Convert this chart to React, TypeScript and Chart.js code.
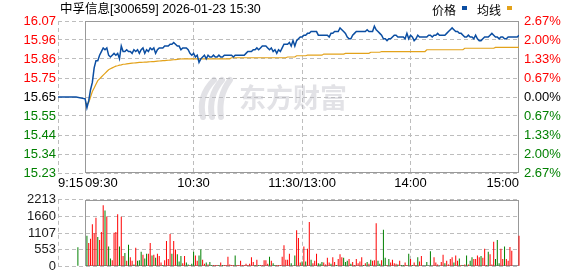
import React, { useEffect, useRef } from 'react';
import { Chart, registerables } from 'chart.js';

Chart.register(...registerables);

// ---------------- data ----------------
const TITLE = '中孚信息[300659] 2026-01-23 15:30';
const LEGEND_LABELS = ['价格', '均线'];

// x axis: minutes after 9:15 with the lunch break collapsed (11:30 == 13:00)
const X_TICK_LABELS = ['9:15', '09:30', '10:30', '11:30/13:00', '14:00', '15:00'];
const X_TICK_MINUTES = [0, 15, 75, 135, 195, 255];
const X_GRID_MINUTES = [0, 75, 135, 195];
const SESSION_START = 15; // 9:30

const PRICE_TICK_LABELS = ['16.07', '15.96', '15.86', '15.75', '15.65', '15.55', '15.44', '15.34', '15.23'];
const PCT_TICK_LABELS = ['2.67%', '2.00%', '1.33%', '0.67%', '0.00%', '0.67%', '1.33%', '2.00%', '2.67%'];
const VOL_TICK_LABELS = ['2213', '1660', '1107', '553', '0'];

const PRICE_MIN = 15.232;
const PRICE_MAX = 16.068;
const VOL_MAX = 2213;

// call auction (9:15 - 9:25)
const AUCTION_MINUTES = [0, 10];
const AUCTION_PRICES = [15.65, 15.65];
const AUCTION_VOL_MINUTE = 11;
const AUCTION_VOL = 630;
const AUCTION_VOL_DIR = 'g';

// minute prices 9:30 .. 15:00 (241 points)
const PRICES = [
  15.64, 15.59, 15.63, 15.69, 15.73, 15.81, 15.85, 15.85, 15.88, 15.90,
  15.92, 15.91, 15.92, 15.88, 15.87, 15.88, 15.89, 15.88, 15.89, 15.86,
  15.93, 15.90, 15.90, 15.91, 15.90, 15.90, 15.89, 15.91, 15.90, 15.91,
  15.89, 15.91, 15.92, 15.89, 15.91, 15.90, 15.92, 15.91, 15.92, 15.89,
  15.91, 15.92, 15.92, 15.92, 15.93, 15.93, 15.93, 15.94, 15.94, 15.95,
  15.94, 15.93, 15.93, 15.91, 15.92, 15.92, 15.92, 15.91, 15.89, 15.88,
  15.89, 15.87, 15.88, 15.84, 15.86, 15.87, 15.88, 15.86, 15.88, 15.87,
  15.87, 15.88, 15.87, 15.87, 15.88, 15.87, 15.87, 15.88, 15.88, 15.88,
  15.88, 15.88, 15.87, 15.88, 15.88, 15.88, 15.88, 15.88, 15.88, 15.89,
  15.90, 15.90, 15.90, 15.91, 15.91, 15.92, 15.91, 15.92, 15.93, 15.93,
  15.93, 15.92, 15.91, 15.92, 15.90, 15.91, 15.89, 15.91, 15.90, 15.92,
  15.94, 15.94, 15.94, 15.95, 15.93, 15.96, 15.93, 15.96, 15.97, 15.98,
  15.98, 15.99, 15.99, 16.00, 16.00, 16.01, 16.01, 16.01, 16.01, 15.99,
  15.99, 15.99, 15.99, 15.99, 15.99, 15.98, 16.00, 16.00, 16.01, 16.01,
  16.01, 16.03, 16.02, 16.01, 16.00, 15.98, 15.97, 15.97, 15.99, 16.00,
  16.01, 16.01, 16.01, 16.01, 16.01, 16.01, 16.02, 16.01, 16.01, 16.01,
  16.04, 16.02, 16.01, 16.00, 15.99, 15.97, 15.97, 15.96, 15.97, 15.97,
  15.98, 15.99, 15.99, 15.98, 15.98, 15.98, 15.98, 15.97, 16.00, 15.97,
  15.99, 15.98, 15.96, 15.97, 15.99, 15.98, 15.98, 15.98, 15.98, 15.98,
  15.99, 15.99, 15.98, 15.99, 15.99, 16.00, 15.99, 15.99, 15.99, 15.99,
  16.00, 16.01, 16.02, 16.03, 16.02, 16.01, 16.01, 16.00, 16.00, 15.99,
  15.98, 15.98, 15.99, 15.98, 15.98, 15.97, 15.99, 15.97, 15.96, 15.96,
  15.97, 15.98, 15.98, 15.98, 15.99, 16.00, 15.99, 15.98, 15.98, 15.97,
  15.98, 15.98, 15.97, 15.97, 15.98, 15.98, 15.98, 15.98, 15.98, 15.98,
  15.99,
];

// average price line 9:30 .. 15:00 (241 points)
const AVG_PRICES = [
  15.62, 15.61, 15.62, 15.65, 15.68, 15.70, 15.72, 15.74, 15.75, 15.76,
  15.77, 15.78, 15.79, 15.80, 15.805, 15.81, 15.815, 15.82, 15.822, 15.825,
  15.827, 15.83, 15.83, 15.832, 15.834, 15.835, 15.836, 15.837, 15.838, 15.839,
  15.84, 15.84, 15.841, 15.842, 15.842, 15.843, 15.844, 15.845, 15.845, 15.846,
  15.847, 15.848, 15.849, 15.85, 15.85, 15.851, 15.852, 15.853, 15.854, 15.855,
  15.856, 15.857, 15.858, 15.859, 15.86, 15.86, 15.86, 15.86, 15.86, 15.86,
  15.86, 15.86, 15.86, 15.86, 15.86, 15.86, 15.86, 15.86, 15.86, 15.86,
  15.86, 15.86, 15.86, 15.86, 15.86, 15.86, 15.86, 15.86, 15.86, 15.86,
  15.86, 15.866, 15.866, 15.866, 15.866, 15.866, 15.866, 15.866, 15.866, 15.866,
  15.866, 15.866, 15.866, 15.866, 15.866, 15.866, 15.866, 15.866, 15.866, 15.866,
  15.866, 15.866, 15.866, 15.866, 15.866, 15.866, 15.866, 15.866, 15.866, 15.866,
  15.866, 15.866, 15.87, 15.87, 15.87, 15.87, 15.87, 15.877, 15.877, 15.877,
  15.877, 15.877, 15.877, 15.88, 15.88, 15.88, 15.88, 15.88, 15.88, 15.88,
  15.88, 15.88, 15.886, 15.886, 15.886, 15.886, 15.886, 15.886, 15.886, 15.886,
  15.886, 15.886, 15.886, 15.886, 15.89, 15.89, 15.89, 15.89, 15.89, 15.89,
  15.89, 15.89, 15.89, 15.89, 15.89, 15.89, 15.89, 15.89, 15.896, 15.896,
  15.896, 15.896, 15.896, 15.896, 15.90, 15.90, 15.90, 15.90, 15.90, 15.90,
  15.90, 15.90, 15.90, 15.90, 15.90, 15.90, 15.90, 15.90, 15.90, 15.90,
  15.90, 15.90, 15.90, 15.90, 15.90, 15.90, 15.90, 15.90, 15.90, 15.91,
  15.91, 15.91, 15.91, 15.91, 15.91, 15.91, 15.91, 15.91, 15.91, 15.91,
  15.91, 15.91, 15.91, 15.91, 15.91, 15.91, 15.91, 15.91, 15.91, 15.91,
  15.918, 15.918, 15.918, 15.918, 15.918, 15.918, 15.918, 15.918, 15.918, 15.918,
  15.918, 15.918, 15.918, 15.918, 15.918, 15.918, 15.918, 15.923, 15.923, 15.923,
  15.923, 15.923, 15.923, 15.923, 15.923, 15.923, 15.923, 15.923, 15.923, 15.923,
  15.923,
];

// minute volumes 9:31 .. 15:00 (240 bars)
const VOLUMES = [
  1017, 777, 917, 1395, 1096, 1615, 977, 877, 1136, 2033,
  1854, 1655, 658, 259, 199, 1116, 1136, 1734, 658, 1645,
  339, 439, 179, 718, 299, 179, 60, 618, 179, 199,
  478, 379, 259, 419, 419, 777, 359, 379, 279, 419,
  339, 120, 40, 199, 837, 239, 1076, 419, 837, 558,
  399, 160, 339, 100, 339, 120, 60, 40, 80, 478,
  359, 179, 359, 558, 219, 80, 120, 60, 140, 40,
  40, 40, 40, 40, 120, 40, 40, 40, 319, 60,
  40, 40, 359, 40, 40, 179, 40, 40, 80, 40,
  80, 299, 140, 40, 219, 40, 40, 40, 199, 199,
  80, 319, 179, 100, 40, 40, 40, 40, 319, 698,
  219, 219, 419, 100, 20, 359, 1196, 937, 120, 160,
  658, 160, 578, 1475, 219, 100, 179, 419, 100, 80,
  140, 120, 60, 279, 120, 80, 299, 140, 40, 239,
  399, 299, 279, 140, 179, 239, 80, 140, 40, 239,
  100, 160, 299, 40, 100, 140, 80, 219, 179, 199,
  1435, 179, 80, 199, 1216, 279, 40, 239, 120, 219,
  100, 80, 60, 179, 40, 40, 120, 40, 419, 239,
  40, 120, 40, 299, 160, 339, 20, 20, 140, 20,
  498, 20, 299, 120, 60, 20, 140, 379, 100, 179,
  60, 239, 299, 120, 359, 179, 259, 40, 40, 60,
  359, 60, 179, 299, 239, 239, 359, 299, 339, 279,
  578, 40, 478, 399, 60, 817, 239, 877, 100, 578,
  239, 658, 239, 179, 638, 518, 0, 0, 0, 1017,
];

// r = up minute (red), g = down minute (green)
const VOL_DIRS = [
  'grrrrrgrrr', 'grggrrrrgr', 'rgrgrrgrgg', 'grggrrgrgr', 'rrgrrrrgrr',
  'gggrrggrgg', 'rrggrrgrgg', 'rrrgrgrrrr', 'rrgrrrrrrr', 'rrrgrgrrrr',
  'rgrggrrrrr', 'rrrgrgrrrg', 'rgrrgrrrgg', 'grrrrgrrgr', 'rrgggrgrrr',
  'rrrgrgrgrr', 'rggrggrgrr', 'rrgrggrrgr', 'grrgrrgggg', 'grrrrgrrgr',
  'rrrgrrgrgr', 'grggrrrrgr', 'rrgrrrgggr', 'rgrrrrrrrr',
].join('');

// ---------------- styles ----------------
const BLUE = '#0b4ea2';
const GOLD = '#e3a21a';
const UP = '#ff0000';
const DOWN = '#008000';
const FLAT = '#000000';
const GRID = '#bdbdbd';
const FRAME = '#999999';
const FONT_FAMILY = '"Liberation Sans", Arial, sans-serif';
const CJK_FAMILY = '"Noto Sans CJK SC", sans-serif';

function drawFrame(chart: any) {
  const { ctx, chartArea, scales } = chart;
  const left = Math.round(scales.x.getPixelForValue(SESSION_START)) + 0.5;
  const right = Math.round(chartArea.right) - 0.5;
  const top = Math.round(chartArea.top) + 0.5;
  const bottom = Math.round(chartArea.bottom) - 0.5;
  ctx.save();
  ctx.strokeStyle = FRAME;
  ctx.lineWidth = 1;
  ctx.setLineDash([]);
  ctx.strokeRect(left, top, right - left, bottom - top);
  ctx.restore();
}

const topPlugin = {
  id: 'topDecor',
  beforeDatasetsDraw(chart: any) {
    const { ctx } = chart;
    ctx.save();
    // watermark
    ctx.strokeStyle = 'rgba(190,190,200,0.45)';
    ctx.lineWidth = 6;
    ctx.lineCap = 'round';
    for (let i = 0; i < 3; i++) {
      ctx.beginPath();
      ctx.moveTo(203 + i * 9, 117);
      ctx.quadraticCurveTo(198 + i * 10, 96, 214 + i * 8, 80);
      ctx.stroke();
    }
    ctx.fillStyle = 'rgba(190,190,200,0.45)';
    ctx.font = 'bold 27px ' + CJK_FAMILY;
    ctx.textBaseline = 'middle';
    ctx.textAlign = 'left';
    ctx.fillText('东方财富', 239, 98);
    ctx.restore();
    drawFrame(chart);
  },
  afterDraw(chart: any) {
    const { ctx, scales } = chart;
    ctx.save();
    ctx.textBaseline = 'middle';
    ctx.fillStyle = '#000';
    ctx.textAlign = 'left';
    ctx.font = '12.5px ' + FONT_FAMILY + ', ' + CJK_FAMILY;
    ctx.fillText(TITLE, 60, 10);
    // legend
    ctx.font = '12px ' + CJK_FAMILY;
    let lx = 432;
    const markerColors = [BLUE, GOLD];
    LEGEND_LABELS.forEach((label, i) => {
      ctx.fillStyle = '#000';
      ctx.fillText(label, lx, 10);
      const w = ctx.measureText(label).width;
      ctx.fillStyle = markerColors[i];
      ctx.fillRect(lx + w + 6, 6, 5, 4);
      lx = lx + w + 21;
    });
    // x labels
    ctx.fillStyle = '#000';
    ctx.font = '13px ' + FONT_FAMILY;
    X_TICK_LABELS.forEach((label, i) => {
      const px = scales.x.getPixelForValue(X_TICK_MINUTES[i]);
      ctx.textAlign = i < 2 ? 'left' : i === X_TICK_LABELS.length - 1 ? 'right' : 'center';
      ctx.fillText(label, px, 183);
    });
    ctx.restore();
  },
};

const bottomPlugin = {
  id: 'bottomDecor',
  beforeDatasetsDraw(chart: any) {
    drawFrame(chart);
  },
};

function xScale() {
  return {
    type: 'linear' as const,
    min: X_TICK_MINUTES[0],
    max: X_TICK_MINUTES[X_TICK_MINUTES.length - 1],
    offset: false,
    afterBuildTicks: (s: any) => {
      s.ticks = X_GRID_MINUTES.map((v) => ({ value: v }));
    },
    afterFit: (s: any) => {
      s.height = 0;
    },
    ticks: { display: false },
    grid: { color: GRID, lineWidth: 1, drawTicks: false, offset: false },
    border: { display: false, dash: [4, 3] },
  };
}

export default function App() {
  const topRef = useRef<HTMLCanvasElement>(null);
  const botRef = useRef<HTMLCanvasElement>(null);

  useEffect(() => {
    document.body.style.margin = '0';
    const font = { family: FONT_FAMILY, size: 13 };
    const n = PRICE_TICK_LABELS.length;
    const priceTickValues = PRICE_TICK_LABELS.map((_, i) => PRICE_MIN + ((PRICE_MAX - PRICE_MIN) * i) / (n - 1));
    const mid = (n - 1) / 2;
    const tickColor = (i: number) => (i < mid ? DOWN : i === mid ? FLAT : UP);

    const priceData = [
      ...AUCTION_MINUTES.map((m, i) => ({ x: m, y: AUCTION_PRICES[i] })),
      ...PRICES.map((p, i) => ({ x: SESSION_START + i, y: p })),
    ];
    const avgData = AVG_PRICES.map((p, i) => ({ x: SESSION_START + i, y: p }));

    const top = new Chart(topRef.current as HTMLCanvasElement, {
      type: 'line',
      data: {
        datasets: [
          { data: priceData, borderColor: BLUE, borderWidth: 1.5, pointRadius: 0, tension: 0, yAxisID: 'y' },
          { data: avgData, borderColor: GOLD, borderWidth: 1.2, pointRadius: 0, tension: 0, yAxisID: 'y' },
        ],
      },
      options: {
        responsive: false,
        animation: false,
        devicePixelRatio: 1,
        layout: { padding: { top: 21, bottom: 17, left: 0, right: 0 } },
        plugins: { legend: { display: false }, tooltip: { enabled: false }, title: { display: false } },
        scales: {
          x: xScale(),
          y: {
            position: 'left',
            min: PRICE_MIN,
            max: PRICE_MAX,
            afterBuildTicks: (s: any) => {
              s.ticks = priceTickValues.map((v) => ({ value: v }));
            },
            afterFit: (s: any) => {
              s.width = 58;
            },
            ticks: {
              font,
              padding: 2,
              autoSkip: false,
              color: (c: any) => tickColor(c.index),
              callback: (_v: any, i: number) => PRICE_TICK_LABELS[n - 1 - i],
            },
            grid: { color: GRID, lineWidth: 1, drawTicks: false },
            border: { display: false, dash: [4, 3] },
          },
          y2: {
            position: 'right',
            min: PRICE_MIN,
            max: PRICE_MAX,
            afterBuildTicks: (s: any) => {
              s.ticks = priceTickValues.map((v) => ({ value: v }));
            },
            afterFit: (s: any) => {
              s.width = 59;
            },
            ticks: {
              font,
              padding: 5,
              autoSkip: false,
              color: (c: any) => tickColor(c.index),
              callback: (_v: any, i: number) => PCT_TICK_LABELS[n - 1 - i],
            },
            grid: { display: false, drawTicks: false },
            border: { display: false },
          },
        },
      },
      plugins: [topPlugin],
    } as any);

    const nv = VOL_TICK_LABELS.length;
    const volTickValues = VOL_TICK_LABELS.map((_, i) => (VOL_MAX * i) / (nv - 1));
    const volData = [
      { x: AUCTION_VOL_MINUTE, y: AUCTION_VOL },
      ...VOLUMES.map((v, i) => ({ x: SESSION_START + 1 + i, y: v })),
    ];
    const volColors = [AUCTION_VOL_DIR, ...VOL_DIRS.split('')].map((d) => (d === 'r' ? UP : DOWN));

    const bottom = new Chart(botRef.current as HTMLCanvasElement, {
      type: 'bar',
      data: {
        datasets: [
          {
            data: volData,
            backgroundColor: volColors,
            borderWidth: 0,
            barThickness: 1,
            grouped: false,
            inflateAmount: 0,
            clip: false,
          },
        ],
      },
      options: {
        responsive: false,
        animation: false,
        devicePixelRatio: 1,
        layout: { padding: { top: 6, bottom: 6, left: 0, right: 59 } },
        plugins: { legend: { display: false }, tooltip: { enabled: false }, title: { display: false } },
        scales: {
          x: xScale(),
          y: {
            position: 'left',
            min: 0,
            max: VOL_MAX,
            afterBuildTicks: (s: any) => {
              s.ticks = volTickValues.map((v) => ({ value: v }));
            },
            afterFit: (s: any) => {
              s.width = 58;
            },
            ticks: {
              font,
              padding: 2,
              autoSkip: false,
              color: '#1a1a1a',
              callback: (_v: any, i: number) => VOL_TICK_LABELS[nv - 1 - i],
            },
            grid: { color: GRID, lineWidth: 1, drawTicks: false },
            border: { display: false, dash: [4, 3] },
          },
        },
      },
      plugins: [bottomPlugin],
    } as any);

    return () => {
      top.destroy();
      bottom.destroy();
    };
  }, []);

  return (
    <div style={{ position: 'relative', width: 578, height: 276, background: '#fff' }}>
      <canvas ref={topRef} width={578} height={190} style={{ position: 'absolute', left: 0, top: 0 }} />
      <canvas ref={botRef} width={578} height={86} style={{ position: 'absolute', left: 0, top: 190 }} />
    </div>
  );
}
